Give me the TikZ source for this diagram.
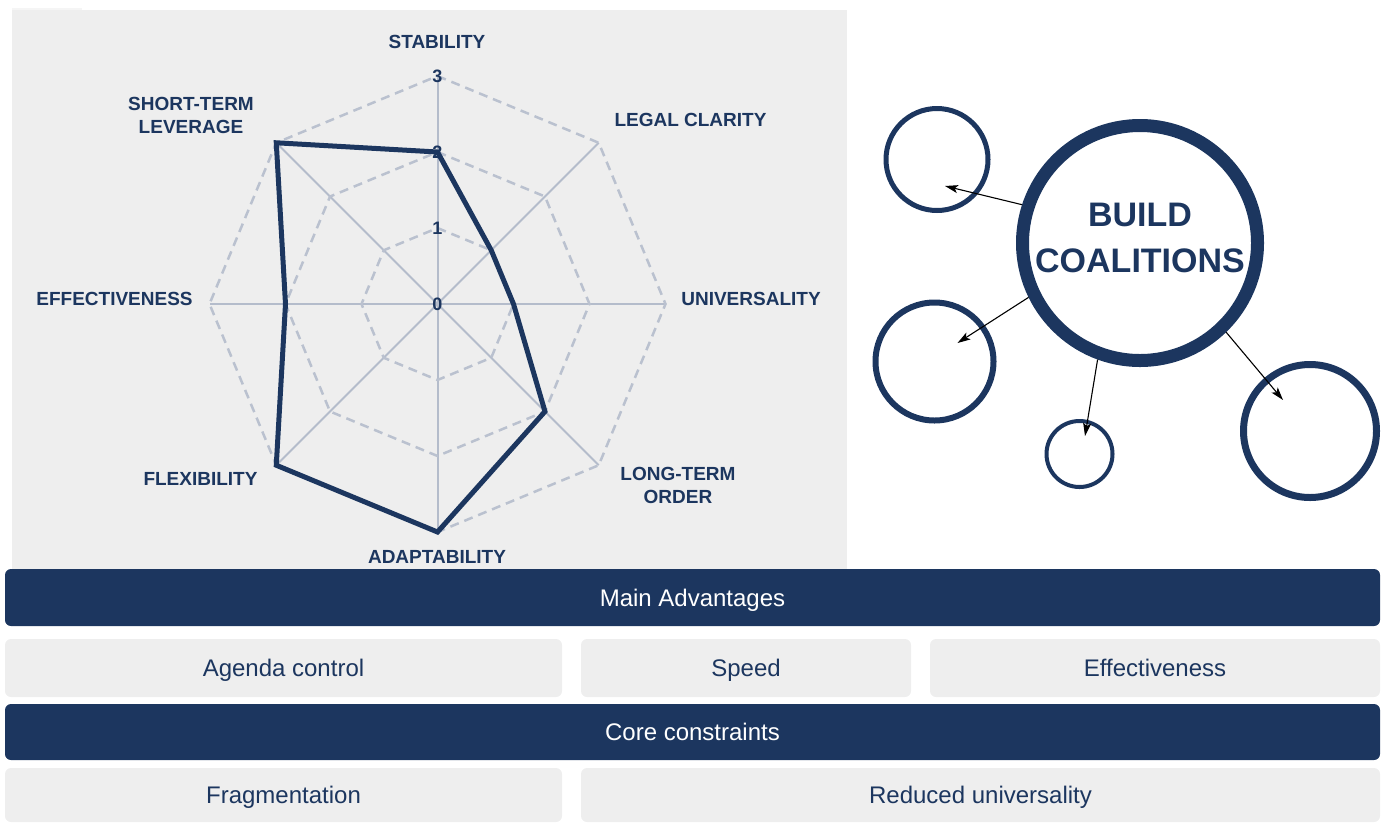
\documentclass[tikz,border=0pt]{standalone}
\usepackage{fontspec}
\setmainfont{Liberation Sans}
\usetikzlibrary{arrows.meta}
\definecolor{navy}{RGB}{28,54,95}
\definecolor{panel}{RGB}{238,238,238}
\definecolor{spokec}{RGB}{180,188,203}
\definecolor{ringc}{RGB}{186,193,207}
\tikzset{
  axlabel/.style={text=navy, font=\fontsize{19}{23}\selectfont\bfseries, align=center, inner sep=0pt},
  numlabel/.style={text=navy, font=\fontsize{18}{20}\selectfont\bfseries, inner sep=0pt},
  ringline/.style={draw=ringc, line width=2.5pt, dash pattern=on 9pt off 6pt},
  spokeline/.style={draw=spokec, line width=2pt},
  dataline/.style={draw=navy, line width=5pt, line join=miter},
  bubble/.style={circle, draw=navy, fill=white, inner sep=0pt},
  arr/.style={draw=black, line width=1.1pt, -{Stealth[length=13pt,width=8pt,inset=3pt]}},
  bar/.style={fill=navy, rounded corners=6pt, text=white, inner sep=0pt, text height=17pt, text depth=0pt, font=\fontsize{24}{28}\selectfont},
  cell/.style={fill=panel, rounded corners=6pt, text=navy, inner sep=0pt, text height=17pt, text depth=0pt, font=\fontsize{24}{28}\selectfont}
}
\begin{document}
\begin{tikzpicture}[x=1pt,y=-1pt]
\useasboundingbox (0,0) rectangle (1392,823);
% panel
\fill[panel!60!white] (12,8) rectangle (82,10);
\fill[panel] (12,10) rectangle (847,569);
% radar
\begin{scope}[shift={(437.5,304)}]
  \foreach \k in {0,...,7} \draw[spokeline] (0,0) -- (-90+45*\k:228);
  \foreach \r in {76,152,228}
    \draw[ringline] (-90:\r) -- (-45:\r) -- (0:\r) -- (45:\r) -- (90:\r) -- (135:\r) -- (180:\r) -- (225:\r) -- cycle;
  \draw[dataline] (-90:152) -- (-45:76) -- (0:76) -- (45:152) -- (90:228) -- (135:228) -- (180:152) -- (225:228) -- cycle;
  \node[numlabel] (n0) at (0,0) {0};
  \node[numlabel] (n1) at (0,-76) {1};
  \node[numlabel] (n2) at (0,-152) {2};
  \node[numlabel] (n3) at (0,-228) {3};
\end{scope}
\node[axlabel] (stab) at (437,42) {STABILITY};
\node[axlabel] (legal) at (690.5,120) {LEGAL CLARITY};
\node[axlabel] (univ) at (751,299) {UNIVERSALITY};
\node[axlabel] (long) at (678,485) {LONG-TERM\\ORDER};
\node[axlabel] (adapt) at (437,557) {ADAPTABILITY};
\node[axlabel] (flex) at (200.5,479) {FLEXIBILITY};
\node[axlabel] (effc) at (114.5,299) {EFFECTIVENESS};
\node[axlabel] (short) at (191,115) {SHORT-TERM\\LEVERAGE};
% bubbles
\coordinate (ea) at (945,186);
\coordinate (eb) at (957.5,343);
\coordinate (ec) at (1085,436);
\coordinate (ed) at (1283,400);
\node[bubble, line width=13pt, minimum size=235pt] (big) at (1140,243) {};
\node[text=navy, font=\fontsize{34}{46.5}\selectfont\bfseries, align=center, inner sep=0pt] (bctext) at (1140,238) {BUILD\\COALITIONS};
\node[bubble, line width=5pt, minimum size=102pt] (c1) at (937,159.5) {};
\node[bubble, line width=6pt, minimum size=118pt] (c2) at (934.5,361.5) {};
\node[bubble, line width=4pt, minimum size=66pt] (c3) at (1079.5,454) {};
\node[bubble, line width=7pt, minimum size=133pt] (c4) at (1310,431) {};
\draw[arr] (big.162) -- (ea);
\draw[arr] (big.206) -- (eb);
\draw[arr] (big.250) -- (ec);
\draw[arr] (big.314) -- (ed);
% bottom table
\node[bar, minimum width=1375pt, minimum height=57pt] (adv) at (692.5,597.5) {Main Advantages};
\node[cell, minimum width=557pt, minimum height=58pt] (agenda) at (283.5,668) {Agenda control};
\node[cell, minimum width=330pt, minimum height=58pt] (speed) at (746,668) {Speed};
\node[cell, minimum width=450pt, minimum height=58pt] (eff) at (1155,668) {Effectiveness};
\node[bar, minimum width=1375pt, minimum height=56pt] (core) at (692.5,732) {Core constraints};
\node[cell, minimum width=557pt, minimum height=54pt] (frag) at (283.5,795) {Fragmentation};
\node[cell, minimum width=799pt, minimum height=54pt] (red) at (980.5,795) {Reduced universality};
\end{tikzpicture}
\end{document}
